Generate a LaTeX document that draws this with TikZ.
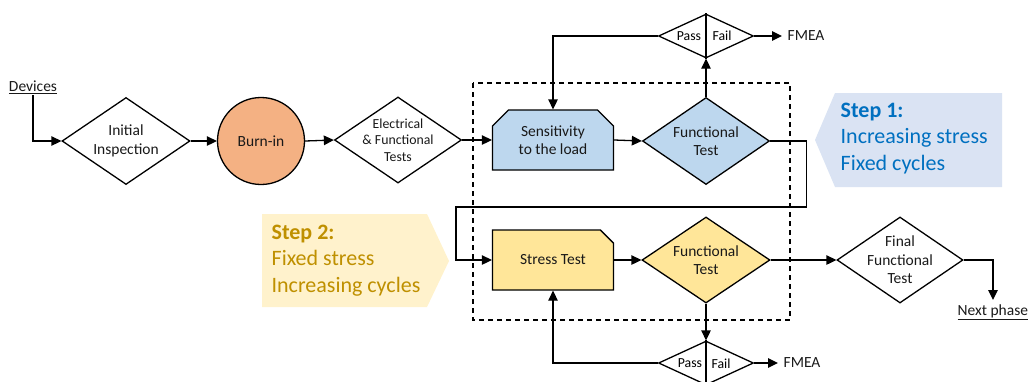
\documentclass[tikz,border=0pt]{standalone}
\usepackage{fontspec}
\setmainfont{Carlito}
\usetikzlibrary{shapes.geometric,shapes.misc,arrows.meta}
\definecolor{blueFill}{HTML}{BDD7EE}
\definecolor{yellowFill}{HTML}{FFE699}
\definecolor{orangeFill}{HTML}{F4B183}
\definecolor{stepOneBg}{HTML}{DAE3F3}
\definecolor{stepOneTx}{HTML}{0070C0}
\definecolor{stepTwoBg}{HTML}{FFF2CC}
\definecolor{stepTwoTx}{HTML}{BF9000}
\newcommand{\myul}[1]{\underline{#1}}
\begin{document}
\begin{tikzpicture}[x=1pt,y=-1pt,line width=1.3pt,
  txt/.style={font=\fontsize{15.5}{18.5}\selectfont,align=center,text=black!90},
  dia/.style={txt,shape=diamond,draw,inner sep=0pt,shape aspect=1.47},
  snip/.style={txt,shape=chamfered rectangle,draw,inner sep=0pt,
    minimum width=121pt,minimum height=60pt,
    chamfered rectangle xsep=8pt,chamfered rectangle ysep=8pt},
  small/.style={font=\fontsize{13.8}{16}\selectfont,inner sep=0pt},
  arr/.style={-{Triangle[length=10pt,width=9.5pt]}},
  stepbox/.style={font=\fontsize{22}{26.5}\selectfont,align=left,inner sep=0pt,anchor=north west}]
\useasboundingbox (0,0) rectangle (1028,381);

% callouts
\fill[stepOneBg] (815,140) -- (835,93) -- (1002,93) -- (1002,187) -- (835,187) -- cycle;
\node[stepbox,text=stepOneTx] (s1) at (840,102) {\textbf{Step 1:}\\Increasing stress\\Fixed cycles};
\fill[stepTwoBg] (262,214) -- (427,214) -- (449,261) -- (427,307) -- (262,307) -- cycle;
\node[stepbox,text=stepTwoTx] (s2) at (271,224) {\textbf{Step 2:}\\Fixed stress\\Increasing cycles};

% dashed group
\draw[dash pattern=on 5pt off 4pt] (473,83) rectangle (790,320);

% nodes
\node[txt,inner sep=1pt] (dev) at (33,87) {\myul{Devices}};
\node[dia,minimum width=128pt,minimum height=87pt] (init) at (126,141) {Initial\\Inspection};
\node[txt,circle,draw,fill=orangeFill,minimum size=87pt,inner sep=0pt] (burn) at (261,141) {Burn-in};
\node[dia,minimum width=127pt,minimum height=86pt,font=\fontsize{13.8}{16.5}\selectfont,inner xsep=-6pt,inner ysep=-6pt] (elec) at (398,140) {Electrical\\\& Functional\\Tests};
\node[snip,fill=blueFill,chamfered rectangle corners={north west,north east}] (sens) at (553,140) {Sensitivity\\to the load};
\node[dia,fill=blueFill,minimum width=127pt,minimum height=87pt] (ft1) at (706,141) {Functional\\Test};
\node[dia,minimum width=95pt,minimum height=44pt] (pf1) at (706,36) {};
\node[small] (pass1) at (689,36) {Pass};
\node[small] (fail1) at (722,36) {Fail};
\node[txt,anchor=west,inner sep=0pt,inner xsep=5pt] (fmea1) at (782,36) {FMEA};

\node[snip,fill=yellowFill,chamfered rectangle corners={north east}] (stress) at (553,260) {Stress Test};
\node[dia,fill=yellowFill,minimum width=128pt,minimum height=86pt] (ft2) at (706,260) {Functional\\Test};
\node[dia,minimum width=95pt,minimum height=44pt] (pf2) at (706,363) {};
\node[small] (pass2) at (690,363) {Pass};
\node[small] (fail2) at (721,364) {Fail};
\node[txt,anchor=west,inner sep=0pt,inner xsep=5pt] (fmea2) at (778,363) {FMEA};
\node[dia,minimum width=126pt,minimum height=86pt,inner xsep=-6pt,inner ysep=-6pt] (final) at (900,260) {Final\\Functional\\Test};
\coordinate (np) at (993,300);
\node[txt,anchor=north west,inner sep=1pt] (next) at (956,303) {\myul{Next phase}};

% connectors
\draw[arr] (dev.south) |- (init.west);
\draw[arr] (init.east) -- (burn.west);
\draw[arr] (burn.east) -- (elec.west);
\draw[arr] (elec.east) -- (sens.west);
\draw[arr] (sens.east) -- (ft1.west);
\draw[arr] (ft1.north) -- (pf1.south);
\draw (pf1.north) -- (pf1.south);
\draw[arr] (pf1.east) -- (fmea1.west);
\draw[arr] (pf1.west) -| (sens.north);
\draw[arr] (ft1.east) -- ++(36,0) |- (456,207) |- (stress.west);
\draw[arr] (stress.east) -- (ft2.west);
\draw[arr] (ft2.south) -- (pf2.north);
\draw (pf2.north) -- ++(0,50);
\draw[arr] (pf2.east) -- (fmea2.west);
\draw[arr] (pf2.west) -| (stress.south);
\draw[arr] (ft2.east) -- (final.west);
\draw[arr] (final.east) -| (np);
\end{tikzpicture}
\end{document}
